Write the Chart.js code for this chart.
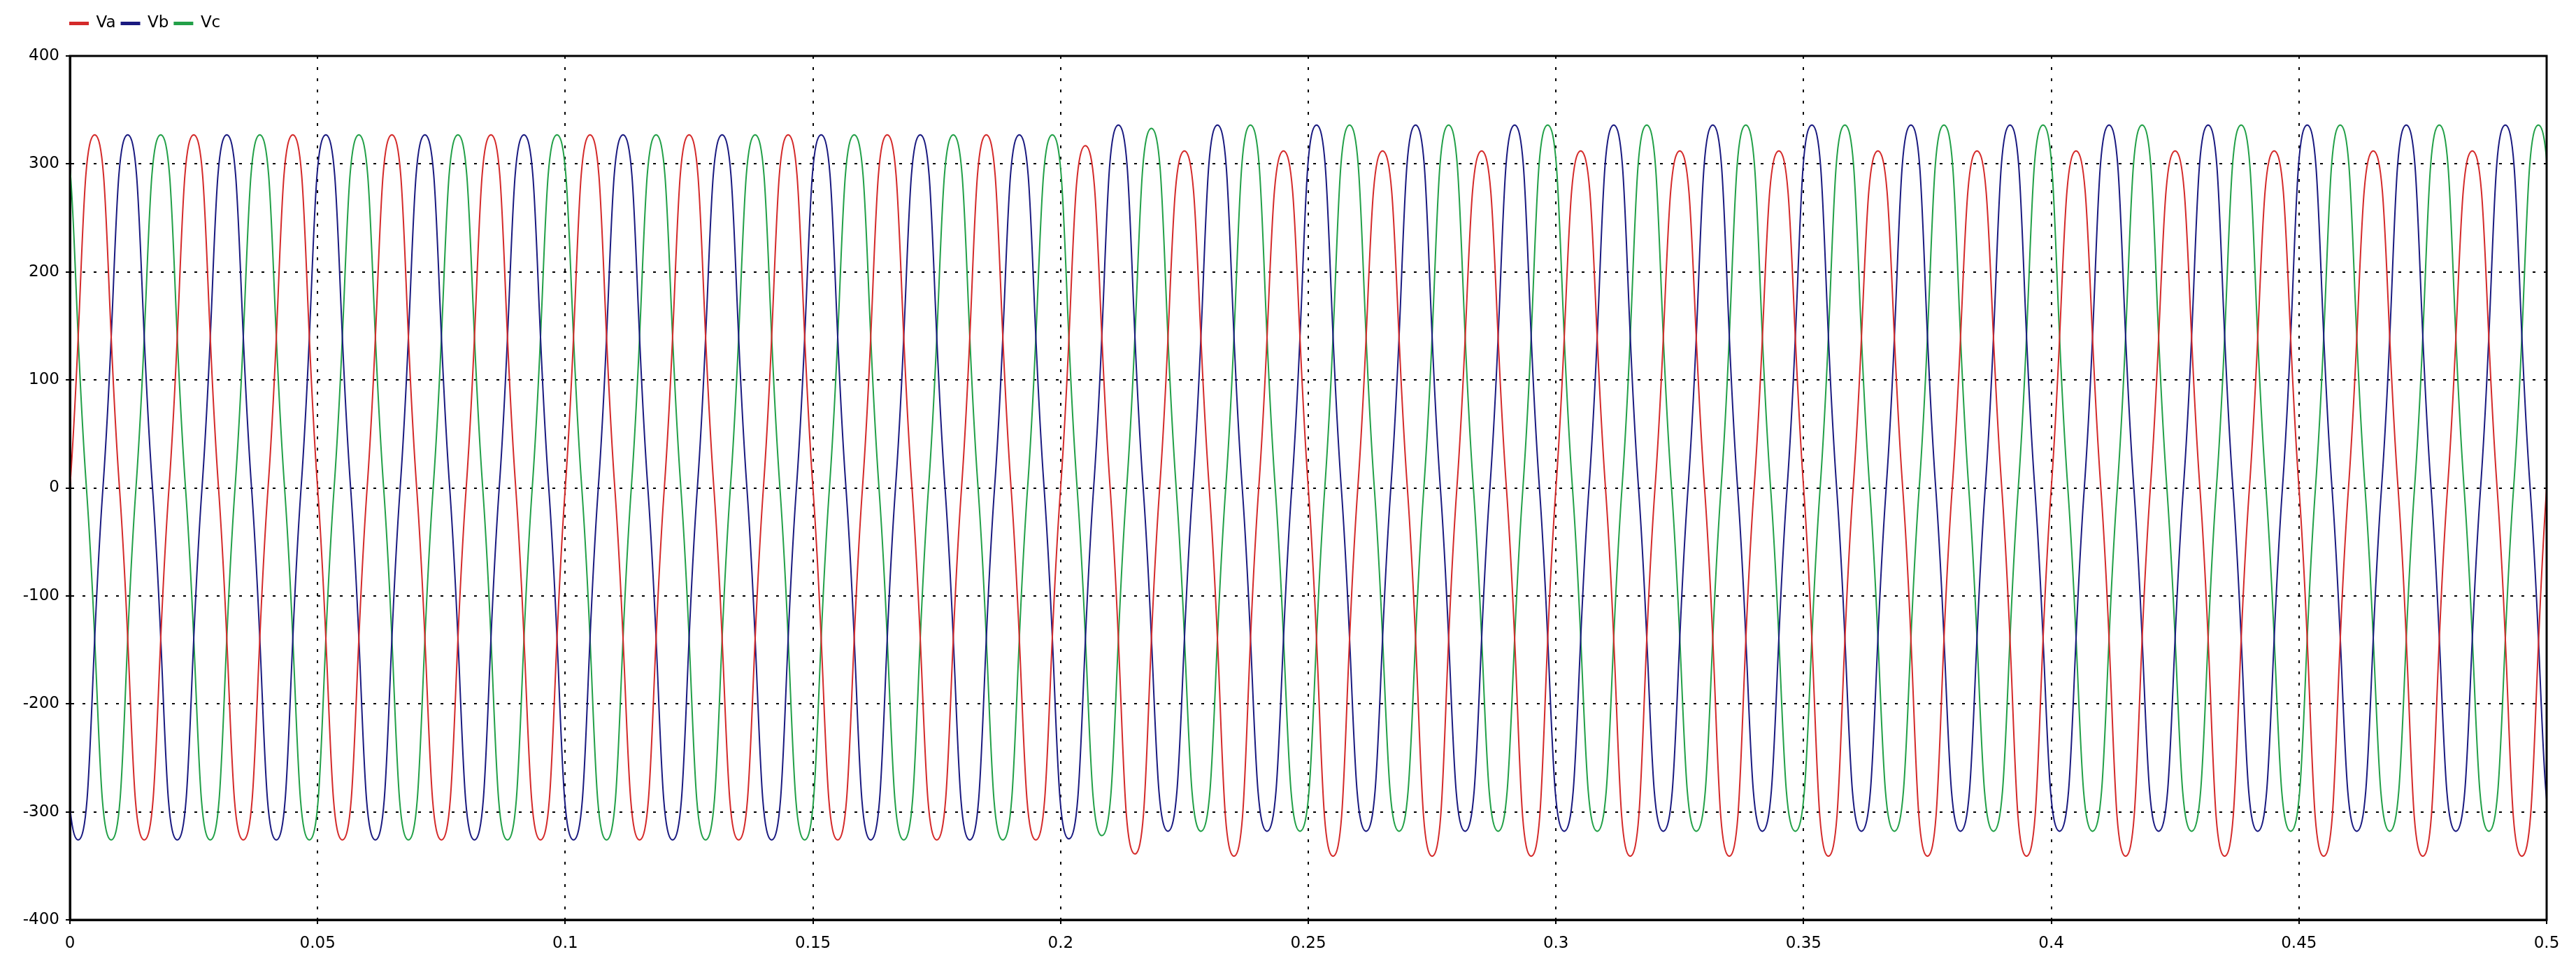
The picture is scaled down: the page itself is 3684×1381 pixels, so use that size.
<!DOCTYPE html>
<html>
<head>
<meta charset="utf-8">
<title>Va Vb Vc</title>
<style>
  html, body { margin: 0; padding: 0; background: #fff; }
  #wrap { width: 3684px; height: 1381px; }
</style>
<script src="https://cdn.jsdelivr.net/npm/chart.js@4.4.1/dist/chart.umd.min.js"></script>
</head>
<body>
<div id="wrap"><canvas id="voltChart" width="3684" height="1381"></canvas></div>
<script>
// 50 Hz three phase voltages, values per cycle
const period = 0.02;

// tick labels
const timeLabels = ['0', '0.05', '0.1', '0.15', '0.2', '0.25', '0.3', '0.35', '0.4', '0.45', '0.5'];
const voltLabels = ['-400', '-300', '-200', '-100', '0', '100', '200', '300', '400'];

// each cycle: rising zero crossing, peak, falling zero crossing, trough
const vaStart = 0;
const vaPeaks = [327, 327, 327, 327, 327, 327, 327, 327, 327, 327, 317, 312, 312,
  312, 312, 312, 312, 312, 312, 312, 312, 312, 312, 312, 312];
const vaTroughs = [-326, -326, -326, -326, -326, -326, -326, -326, -326, -326, -339, -341, -341,
  -341, -341, -341, -341, -341, -341, -341, -341, -341, -341, -341, -341];

const vbStart = -0.013333;
const vbPeaks = [327, 327, 327, 327, 327, 327, 327, 327, 327, 327, 327, 336, 336,
  336, 336, 336, 336, 336, 336, 336, 336, 336, 336, 336, 336, 336];
const vbTroughs = [-326, -326, -326, -326, -326, -326, -326, -326, -326, -326, -325, -318, -318,
  -318, -318, -318, -318, -318, -318, -318, -318, -318, -318, -318, -318, -318];

const vcStart = -0.006667;
const vcPeaks = [327, 327, 327, 327, 327, 327, 327, 327, 327, 327, 327, 333, 336,
  336, 336, 336, 336, 336, 336, 336, 336, 336, 336, 336, 336, 336];
const vcTroughs = [-326, -326, -326, -326, -326, -326, -326, -326, -326, -326, -322, -318, -318,
  -318, -318, -318, -318, -318, -318, -318, -318, -318, -318, -318, -318, -318];

function wave(start, peaks, troughs) {
  const q = period / 4;
  const pts = [];
  peaks.forEach((p, k) => {
    const t = start + k * period;
    pts.push({x: t, y: 0}, {x: t + q, y: p}, {x: t + 2 * q, y: 0}, {x: t + 3 * q, y: troughs[k]});
  });
  pts.push({x: start + peaks.length * period, y: 0});
  return pts;
}

Chart.defaults.font.family = "'DejaVu Sans', sans-serif";
Chart.defaults.font.size = 23;
Chart.defaults.color = '#000';

const lineStyle = (color) => ({
  borderColor: color,
  backgroundColor: color,
  borderWidth: 2,
  pointRadius: 0,
  tension: 0.55,
  fill: false,
});

// box round the plot, and legend moved to the top left corner above the plot
const framePlugin = {
  id: 'frame',
  afterLayout(chart) {
    chart.legend.left += 92;
    chart.legend.top = 14;
  },
  afterDraw(chart) {
    const {ctx, chartArea: a} = chart;
    ctx.save();
    ctx.strokeStyle = '#000';
    ctx.lineWidth = 3;
    ctx.strokeRect(a.left, a.top, a.right - a.left, a.bottom - a.top);
    ctx.restore();
  },
};

const gridStyle = {
  color: '#000',
  lineWidth: 2,
  tickLength: 6,
  tickWidth: 2,
  tickColor: '#000',
  tickBorderDash: [],
};

const voltCtx = document.getElementById('voltChart').getContext('2d');

const voltChart = new Chart(voltCtx, {
  type: 'line',
  data: {
    datasets: [
      {label: 'Va', data: wave(vaStart, vaPeaks, vaTroughs), ...lineStyle('#d42a2a')},
      {label: 'Vb', data: wave(vbStart, vbPeaks, vbTroughs), ...lineStyle('#1a1a80')},
      {label: 'Vc', data: wave(vcStart, vcPeaks, vcTroughs), ...lineStyle('#22a048')},
    ],
  },
  options: {
    responsive: false,
    animation: false,
    devicePixelRatio: 1,
    layout: {
      padding: {top: 15, right: 42, bottom: 0, left: 0},
    },
    plugins: {
      legend: {
        position: 'top',
        align: 'start',
        labels: {
          boxWidth: 26,
          boxHeight: 3,
          padding: 8,
        },
      },
      tooltip: {enabled: false},
    },
    scales: {
      x: {
        type: 'linear',
        min: 0,
        max: 0.5,
        ticks: {
          stepSize: 0.05,
          padding: 14,
          autoSkip: false,
          maxRotation: 0,
          callback: (v, i) => timeLabels[i],
        },
        grid: gridStyle,
        border: {display: true, color: '#000', width: 3, dash: [4, 12]},
        afterFit: (s) => { s.height = 66; },
      },
      y: {
        min: -400,
        max: 400,
        ticks: {
          stepSize: 100,
          padding: 9,
          callback: (v, i) => voltLabels[i],
        },
        grid: gridStyle,
        border: {display: true, color: '#000', width: 3, dash: [4, 12]},
        afterFit: (s) => { s.width = 100; s.paddingTop = 80; },
      },
    },
  },
  plugins: [framePlugin],
});
</script>
</body>
</html>
